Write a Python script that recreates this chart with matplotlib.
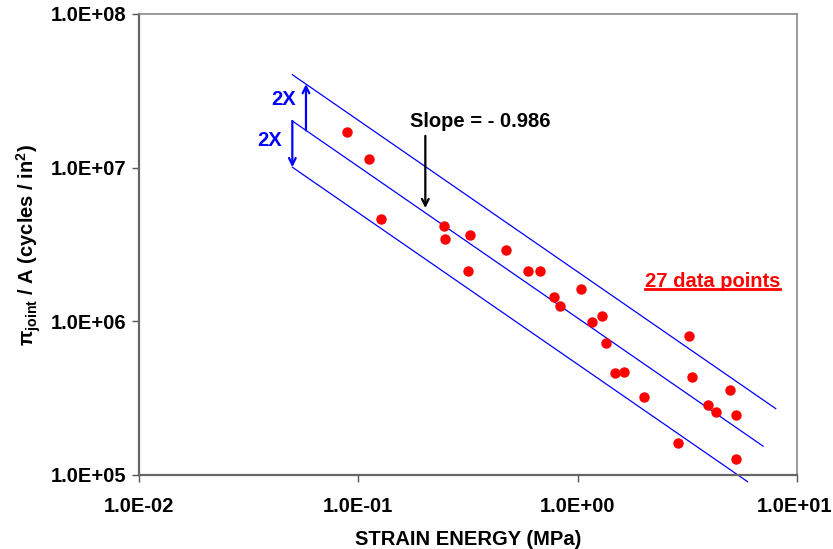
import numpy as np
import matplotlib
matplotlib.use("Agg")
import matplotlib.pyplot as plt
import matplotlib.transforms as mtransforms
from matplotlib.lines import Line2D

plt.rcParams["font.family"] = ["Liberation Sans", "DejaVu Sans"]
plt.rcParams["mathtext.fontset"] = "custom"
plt.rcParams["mathtext.rm"] = "Liberation Sans"
plt.rcParams["mathtext.it"] = "Liberation Sans:italic"
plt.rcParams["mathtext.bf"] = "Liberation Sans:bold"

# strain energy (MPa) vs pi_joint / A, 27 joints
strain_energy = [0.0889, 0.112, 0.1266, 0.2452, 0.2495, 0.322, 0.3155, 0.472,
                 0.594, 0.675, 0.777, 0.834, 1.035, 1.158, 1.286, 1.346, 1.475,
                 1.632, 2.005, 2.855, 3.228, 3.317, 3.91, 4.253, 4.926, 5.262, 5.25]
cycles_per_area = [1.70e7, 1.14e7, 4.61e6, 4.17e6, 3.43e6, 3.64e6, 2.12e6, 2.91e6,
                   2.11e6, 2.11e6, 1.45e6, 1.25e6, 1.62e6, 9.9e5, 1.078e6, 7.19e5,
                   4.61e5, 4.68e5, 3.22e5, 1.62e5, 8.06e5, 4.32e5, 2.87e5, 2.57e5,
                   3.57e5, 2.47e5, 1.28e5]

# power law fit  y = coef * x^slope, band = factor 2
slope = -0.986
coef = 1.05e6
band = 2.0
line_x0 = 0.05
line_x1 = {"upper": 8.0, "center": 7.0, "lower": 5.95}

FS = 14.5

def fit(x, k=1.0):
    return k * coef * np.power(x, slope)

fig = plt.figure(figsize=(8.33, 5.49), dpi=100)
ax = fig.add_axes([0.1669, 0.1348, 0.7899, 0.8397])

for name, k in [("upper", band), ("center", 1.0), ("lower", 1.0 / band)]:
    xs = np.array([line_x0, line_x1[name]])
    ax.plot(xs, fit(xs, k), color="#0000FF", lw=0.9, zorder=2, clip_on=False)

ax.plot(strain_energy, cycles_per_area, "o", color="#FF0000", markersize=7.5,
        markeredgewidth=0, zorder=3)

ax.set_xscale("log")
ax.set_yscale("log")
ax.set_xlim(1e-2, 1e1)
ax.set_ylim(1e5, 1e8)
ax.set_xticks([1e-2, 1e-1, 1e0, 1e1])
ax.set_xticklabels(["1.0E-02", "1.0E-01", "1.0E+00", "1.0E+01"])
ax.set_yticks([1e5, 1e6, 1e7, 1e8])
ax.set_yticklabels(["1.0E+05", "1.0E+06", "1.0E+07", "1.0E+08"])
ax.minorticks_off()
ax.tick_params(direction="out", length=5, width=1, color="#555555",
               labelsize=FS)
ax.tick_params(axis="y", pad=4)
ax.tick_params(axis="x", pad=11)
for lbl in ax.get_xticklabels() + ax.get_yticklabels():
    lbl.set_fontweight("bold")
# last x label sits at the right edge of the image, nudge it in a little
last = ax.get_xticklabels()[-1]
last.set_transform(last.get_transform() +
                   mtransforms.ScaledTranslation(-3 / 100, 0, fig.dpi_scale_trans))
for side in ["left", "bottom"]:
    ax.spines[side].set_color("#666666")
    ax.spines[side].set_linewidth(1.6)
for side in ["top", "right"]:
    ax.spines[side].set_color("#888888")
    ax.spines[side].set_linewidth(1.2)

ax.set_xlabel("STRAIN ENERGY (MPa)", fontsize=FS, fontweight="bold", labelpad=10)
ax.set_ylabel(r"$\mathregular{\pi_{joint}}$ / A (cycles / in$^{\mathregular{2}}$)",
              fontsize=FS, fontweight="bold", labelpad=6)

# 2X band arrows
xa_up = 0.0577
ax.annotate("", xy=(xa_up, fit(xa_up, band)), xytext=(xa_up, fit(xa_up)),
            arrowprops=dict(arrowstyle="->", color="#0000FF", lw=1.6,
                            shrinkA=0, shrinkB=0, mutation_scale=12))
ax.annotate("", xy=(line_x0, fit(line_x0, 1 / band)), xytext=(line_x0, fit(line_x0)),
            arrowprops=dict(arrowstyle="->", color="#0000FF", lw=1.6,
                            shrinkA=0, shrinkB=0, mutation_scale=12))
ax.text(0.0454, 2.78e7, "2X", color="#0000FF", fontsize=FS, fontweight="bold",
        ha="center", va="center")
ax.text(0.0394, 1.51e7, "2X", color="#0000FF", fontsize=FS, fontweight="bold",
        ha="center", va="center")

# slope annotation
ax.text(0.3577, 2.01e7, "Slope = - 0.986", fontsize=FS, fontweight="bold",
        ha="center", va="center")
ax.annotate("", xy=(0.202, 5.46e6), xytext=(0.202, 1.61e7),
            arrowprops=dict(arrowstyle="->", color="black", lw=1.6,
                            shrinkA=0, shrinkB=0, mutation_scale=12))

# red underlined count
cnt = ax.text(4.12, 1.83e6, "27 data points", color="#FF0000", fontsize=FS,
              fontweight="bold", ha="center", va="center")
fig.canvas.draw()
bb = cnt.get_window_extent().transformed(fig.transFigure.inverted())
fig.add_artist(Line2D([bb.x0, bb.x1], [bb.y0 + 0.002, bb.y0 + 0.002],
                      transform=fig.transFigure, color="#FF0000", lw=2))

fig.savefig("out.png", dpi=100)
